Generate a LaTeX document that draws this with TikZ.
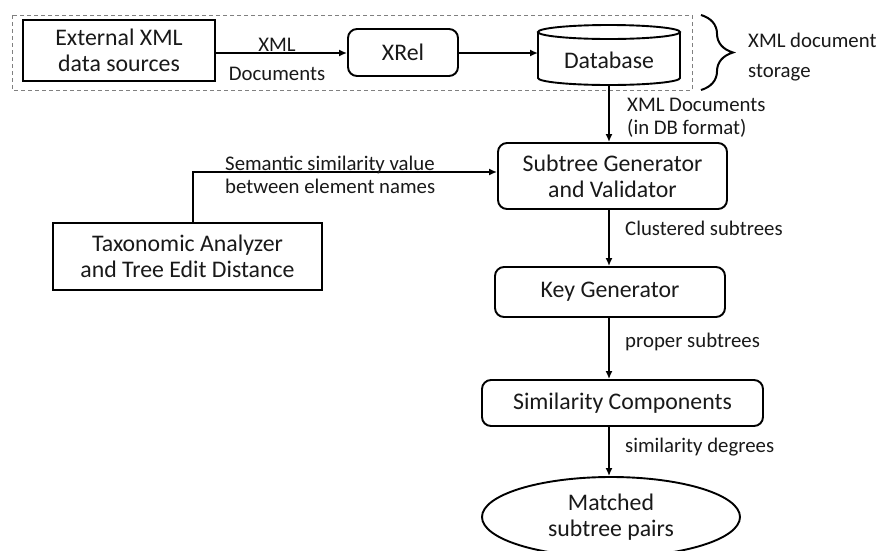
\documentclass[tikz,border=0pt]{standalone}
\usepackage{fontspec}
\setmainfont{Carlito}
\usetikzlibrary{arrows.meta,decorations.pathreplacing,shapes.geometric}
\begin{document}
\begin{tikzpicture}[x=1pt,y=-1pt,
  boxtext/.style={font=\fontsize{23.8}{26}\selectfont, align=center, text=black!90},
  sharpbox/.style={boxtext, draw, line width=1.9pt, inner sep=0pt},
  roundbox/.style={sharpbox, rounded corners=9pt},
  lbl/.style={font=\fontsize{20.8}{22.5}\selectfont, align=left, text=black!90, inner sep=0pt},
  arr/.style={line width=1.8pt, -{Latex[length=8pt,width=7pt]}},
]
\useasboundingbox (0,0) rectangle (878,550);
\fill[white] (0,0) rectangle (878,550);

% storage group
\draw[gray, line width=1pt, dash pattern=on 4pt off 3pt] (12,15) rectangle (692,90);
\node[sharpbox, minimum width=192pt, minimum height=61pt] (ext) at (119,50.5) {External XML\\data sources};
\node[roundbox, minimum width=110pt, minimum height=47pt] (xrel) at (403,52.5) {XRel};

% database cylinder
\draw[line width=1.9pt, fill=white] (538,32) -- (538,78) arc[start angle=180, end angle=360, x radius=71pt, y radius=7pt] -- (680,32);
\draw[line width=1.9pt] (609,32) ellipse[x radius=71pt, y radius=7pt];
\node[boxtext, inner sep=0pt] (db) at (609,60) {Database};
\coordinate (dbw) at (538,53);
\coordinate (dbs) at (609,85);

\draw[decorate, decoration={brace, amplitude=32pt, aspect=0.5}, line width=2pt] (701,15) -- (701,90);
\node[lbl, anchor=west, font=\fontsize{20.8}{30}\selectfont] (stor) at (748,57) {XML document\\storage};

\node[roundbox, minimum width=229pt, minimum height=66pt] (sub) at (612.5,176) {Subtree Generator\\and Validator};
\node[sharpbox, minimum width=269pt, minimum height=67pt] (tax) at (187.5,256.5) {Taxonomic Analyzer\\and Tree Edit Distance};
\node[roundbox, minimum width=230pt, minimum height=50pt] (key) at (610,292) {Key Generator};
\node[roundbox, minimum width=281pt, minimum height=46pt] (sim) at (622.5,403) {Similarity Components};
\node[boxtext, draw, ellipse, line width=1.9pt, inner sep=0pt, minimum width=258pt, minimum height=80pt] (match) at (611,517) {Matched\\subtree pairs};

% connectors
\draw[arr] (ext.east |- dbw) -- (xrel.west |- dbw);
\draw[arr] (xrel.east |- dbw) -- (dbw);
\draw[arr] (dbs) -- (dbs |- sub.north);
\draw[arr] ([xshift=5.5pt]tax.north) |- ([yshift=4pt]sub.west);
\draw[arr] (sub.south -| dbs) -- (key.north -| dbs);
\draw[arr] (key.south -| dbs) -- (sim.north -| dbs);
\draw[arr] (sim.south -| dbs) -- (match.north -| dbs);

% labels
\node[lbl, align=center] (l1) at (277,45) {XML};
\node[lbl, align=center] (l2) at (277,74) {Documents};
\node[lbl, anchor=west] (l3) at (627,118) {XML Documents\\(in DB format)};
\node[lbl, anchor=west] (l4) at (225,175) {Semantic similarity value\\between element names};
\node[lbl, anchor=west] (l5) at (625,228) {Clustered subtrees};
\node[lbl, anchor=west] (l6) at (625,342) {proper subtrees};
\node[lbl, anchor=west] (l7) at (625,447) {similarity degrees};
\end{tikzpicture}
\end{document}
